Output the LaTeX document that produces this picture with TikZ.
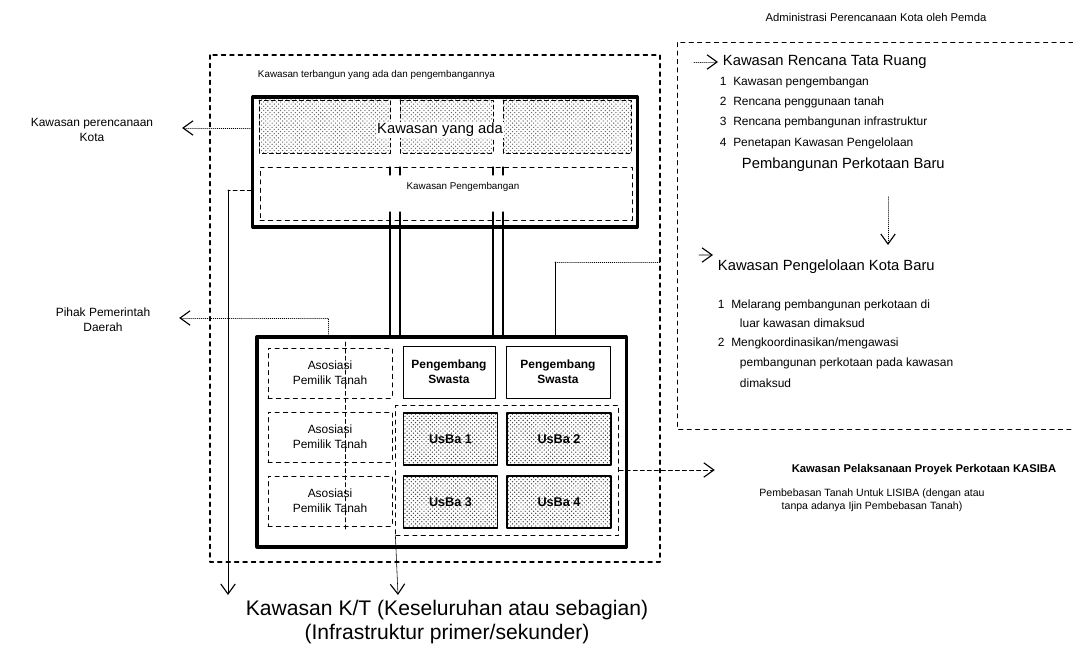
\documentclass[tikz,border=0pt]{standalone}
\usepackage{fontspec}
\setmainfont{Liberation Sans}
\usetikzlibrary{patterns,fit,arrows.meta}
\tikzset{
  kecil/.style={font=\fontsize{7}{9}\selectfont},
  teks/.style={font=\fontsize{8.5}{10.5}\selectfont},
  judul/.style={font=\fontsize{10.5}{12}\selectfont},
  kotak/.style={draw,line width=0.6pt},
  kotaktebal/.style={draw,line width=2.2pt},
  kotakputus/.style={draw,dashed,line width=0.6pt},
  asosiasi/.style={kotakputus,teks,align=center,minimum width=3.1cm,minimum height=1.25cm},
  swasta/.style={kotak,font=\bfseries\fontsize{8.5}{10.5}\selectfont,align=center,minimum height=1.3cm},
  usba/.style={draw,line width=1.2pt,pattern=crosshatch dots,pattern color=black!75,font=\bfseries\fontsize{9}{11}\selectfont,minimum width=2.35cm,minimum height=1.3cm},
  panah/.style={-{Straight Barb[length=2.5mm,width=3.6mm,line width=0.8pt]}},
}
\begin{document}
\begin{tikzpicture}[x=0.025cm,y=-0.025cm,line join=round,line cap=round]
\useasboundingbox (0,0) rectangle (1073,661);
% kawasan terbangun yang ada
\draw[dashed,line width=0.8pt] (210,55) rectangle (660,562);
\node[kecil,anchor=west] (terbangun) at (253,75) {Kawasan terbangun yang ada dan pengembangannya};
\node[kotaktebal,minimum width=9.6cm,minimum height=3.25cm] (atas) at (445,162) {};
\foreach \xa/\xb in {259/390,400/493,503/631}
  \draw[densely dashed,pattern=crosshatch dots,pattern color=black!60] (\xa,100) rectangle (\xb,153);
\node[judul,fill=white,inner sep=1pt] (ada) at (440,130) {Kawasan yang ada};
\node[kotakputus,minimum width=9.3cm,minimum height=1.325cm] (kembang) at (446,193.5) {};
\node[kecil] (kembangteks) at (463,187) {Kawasan Pengembangan};
\foreach \x in {390,400,493,503} {
  \draw[line width=0.9pt] (\x,212) -- (\x,337);
  \draw[line width=0.9pt] (\x,167) -- (\x,175);
}
% pelaku pembangunan
\node[kotaktebal,minimum width=9.225cm,minimum height=5.25cm] (bawah) at (441.5,442) {};
\node[asosiasi] (as1) at (330,373) {Asosiasi\\Pemilik Tanah};
\node[asosiasi] (as2) at (330,437) {Asosiasi\\Pemilik Tanah};
\node[asosiasi] (as3) at (330,501) {Asosiasi\\Pemilik Tanah};
\node[swasta,minimum width=2.3cm] (sw1) at (449,372) {Pengembang\\Swasta};
\node[swasta,minimum width=2.6cm] (sw2) at (558,372) {Pengembang\\Swasta};
\node[usba] (u1) at (450.5,439) {UsBa 1};
\node[usba,minimum width=2.6cm] (u2) at (559,439) {UsBa 2};
\node[usba] (u3) at (450.5,502) {UsBa 3};
\node[usba,minimum width=2.6cm] (u4) at (559,502) {UsBa 4};
\node[kotakputus,fit=(u1)(u4),inner sep=0.17cm] (kelompok) {};
\draw[densely dashed,line width=0.4pt] (345,342) -- (345,530);
% label kiri
\node[teks,align=center] (perencanaan) at (92,130) {Kawasan perencanaan\\Kota};
\node[teks,align=center] (pihak) at (103,320) {Pihak Pemerintah\\Daerah};
\draw[densely dotted,panah] (atas.west |- 0,128) -- ([xshift=0.6cm]perencanaan.east |- 0,128);
\coordinate (pojok) at (328,318);
\draw[densely dotted] (bawah.north -| pojok) -- (pojok);
\draw[densely dotted,panah] (pojok) -- ([xshift=0.6cm]pihak.east |- pojok);
\coordinate (kiri) at (228,595);
\draw[densely dashed] (atas.west |- 0,190) -- (kiri |- 0,190);
\draw[panah] (kiri |- 0,190) -- (kiri);
\coordinate (tengah) at (398,595);
\draw[panah] (kelompok.south west) -- (tengah);
\coordinate (kanan) at (555,262);
\draw (bawah.north -| kanan) -- (kanan);
\draw[densely dotted] (kanan) -- (660,262);
% administrasi perencanaan
\node[font=\fontsize{8}{10}\selectfont] (admin) at (876,17) {Administrasi Perencanaan Kota oleh Pemda};
\draw[dashed,line width=0.6pt] (1073,42) -- (677,42) -- (677,429) -- (1073,429);
\node[judul,anchor=west] (rtr) at (718,62) {Kawasan Rencana Tata Ruang};
\draw[densely dotted,panah] (694,62) -- (rtr.west);
\node[teks,anchor=west] (r1) at (715,82) {1\ \ Kawasan pengembangan};
\node[teks,anchor=west] (r2) at (715,102) {2\ \ Rencana penggunaan tanah};
\node[teks,anchor=west] (r3) at (715,122) {3\ \ Rencana pembangunan infrastruktur};
\node[teks,anchor=west] (r4) at (715,143) {4\ \ Penetapan Kawasan Pengelolaan};
\node[judul,anchor=west] (pbaru) at (737,165) {Pembangunan Perkotaan Baru};
\coordinate (turun) at (888,245);
\draw[densely dotted,panah] (pbaru.south -| turun) ++(0,20) -- (turun);
\node[judul,anchor=west] (kkb) at (713,267) {Kawasan Pengelolaan Kota Baru};
\draw[panah] (699,255) -- ([yshift=0.3cm]kkb.west);
\node[teks,anchor=west] (k1) at (713,305) {1\ \ Melarang pembangunan perkotaan di};
\node[teks,anchor=west] (k1b) at (735,323) {luar kawasan dimaksud};
\node[teks,anchor=west] (k2) at (713,343) {2\ \ Mengkoordinasikan/mengawasi};
\node[teks,anchor=west] (k2b) at (735,363) {pembangunan perkotaan pada kawasan};
\node[teks,anchor=west] (k2c) at (735,383) {dimaksud};
% kasiba
\node[font=\bfseries\fontsize{8}{10}\selectfont] (kasiba) at (924,470) {Kawasan Pelaksanaan Proyek Perkotaan KASIBA};
\node[font=\fontsize{7.5}{9.5}\selectfont,align=center] (lisiba) at (872,500) {Pembebasan Tanah Untuk LISIBA (dengan atau\\tanpa adanya Ijin Pembebasan Tanah)};
\draw[densely dashed,panah] (kelompok.east |- kasiba) -- ([xshift=-1.8cm]kasiba.west);
% kawasan K/T
\node[font=\fontsize{15}{16.5}\selectfont,align=center] (kt) at (447,622) {Kawasan K/T (Keseluruhan atau sebagian)\\(Infrastruktur primer/sekunder)};
\end{tikzpicture}
\end{document}
